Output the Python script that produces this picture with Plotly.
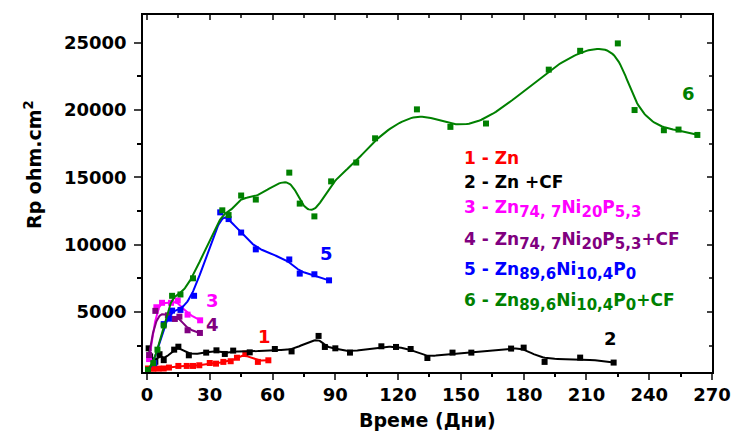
import numpy as np
import plotly.graph_objects as go

# Polarisation resistance Rp (ohm.cm^2) versus exposure time (days)
days_zn = [0.5, 3, 5.5, 8, 10.5, 15, 19, 22, 25, 30, 33, 36.5, 40, 43, 47, 53, 58]
rp_zn = [800, 780, 790, 800, 870, 990, 990, 990, 1040, 1210, 1160, 1290, 1340, 1600, 1910, 1290, 1410]

days_zn_cf = [0.8, 1.5, 4, 6, 8, 13, 15, 20, 28.3, 33.2, 37.2, 41.2, 49.1, 61.1, 69.1, 82, 85, 90, 97,
              112, 119, 126, 134, 146, 155, 174, 180, 190, 207, 223]
rp_zn_cf = [2300, 1700, 1300, 1860, 1420, 2200, 2420, 1780, 1980, 2150, 1880, 2130, 2000, 2250, 2070,
            3220, 2400, 2300, 1980, 2450, 2400, 2250, 1580, 1980, 1980, 2280, 2350, 1290, 1610, 1240]

days_znnip = [1, 4.5, 7.2, 11.5, 14.7, 19.4, 25.4]
rp_znnip = [1500, 5350, 5680, 5680, 5850, 4800, 4380]

days_znnip_cf = [1, 4, 10, 13.3, 15.5, 19.4, 25.3]
rp_znnip_cf = [1800, 5080, 4750, 4480, 4650, 3640, 3440]

days_znni = [0.5, 3.5, 8, 10.5, 12, 16, 22.5, 35, 39, 45, 52, 68, 73, 80, 87]
rp_znni = [600, 1200, 4100, 4500, 5100, 5150, 6200, 12400, 11900, 10900, 9650, 8900, 7850, 7800, 7350]

days_znni_cf = [0.5, 3, 5, 8, 12, 16, 22, 36, 39, 45, 52, 68, 73, 80, 88, 100, 109, 129, 145, 162,
                192, 207, 225, 233, 247, 254, 263]
rp_znni_cf = [700, 1200, 2200, 4000, 6200, 6300, 7500, 12550, 12200, 13650, 13350, 15350, 13050, 12100,
              14700, 16100, 17900, 20050, 18750, 19000, 23000, 24400, 24950, 20000, 18500, 18550, 18150]

series = [
    ("1", days_zn, rp_zn, "#FF0000"),
    ("2", days_zn_cf, rp_zn_cf, "#000000"),
    ("3", days_znnip, rp_znnip, "#FF00FF"),
    ("4", days_znnip_cf, rp_znnip_cf, "#800080"),
    ("5", days_znni, rp_znni, "#0000FF"),
    ("6", days_znni_cf, rp_znni_cf, "#008000"),
]

x_ticks = [0, 30, 60, 90, 120, 150, 180, 210, 240, 270]
y_ticks = [5000, 10000, 15000, 20000, 25000]
y_tick_text = ["5000", "10000", "15000", "20000", "25000"]
x_range = [-1.9, 270]
y_range = [540, 27060]

FONT = "DejaVu Sans"
L, R, T, B = 143, 21, 15, 61
PW, PH = 733 - L - R, 433 - T - B


def bspline_curve(x, y, samples=400, degree=3):
    """Clamped uniform B-spline using the data points as control points."""
    P = np.column_stack([x, y]).astype(float)
    m = len(P)
    p = min(degree, m - 1)
    U = np.concatenate([np.zeros(p), np.linspace(0, 1, m - p + 1), np.ones(p)])
    t = np.linspace(0, 1, samples)
    t[-1] -= 1e-10
    N = np.array([((U[i] <= t) & (t < U[i + 1])).astype(float) for i in range(len(U) - 1)])
    for d in range(1, p + 1):
        Nn = np.zeros((len(U) - 1 - d, samples))
        for i in range(len(U) - 1 - d):
            a = U[i + d] - U[i]
            b = U[i + d + 1] - U[i + 1]
            term = np.zeros(samples)
            if a > 0:
                term += (t - U[i]) / a * N[i]
            if b > 0:
                term += (U[i + d + 1] - t) / b * N[i + 1]
            Nn[i] = term
        N = Nn
    C = N.T @ P
    return C[:, 0], C[:, 1]


fig = go.Figure()
for name, xs, ys, color in series:
    cx, cy = bspline_curve(xs, ys)
    fig.add_trace(go.Scatter(x=cx, y=cy, mode="lines", line=dict(color=color, width=2),
                             hoverinfo="skip", showlegend=False, cliponaxis=True))
    fig.add_trace(go.Scatter(x=xs, y=ys, mode="markers", name=name,
                             marker=dict(symbol="square", size=6, color=color),
                             showlegend=False))

# mirrored top/right axes carrying inward ticks
fig.add_trace(go.Scatter(x=[], y=[], xaxis="x2", yaxis="y2", showlegend=False))

tick_font = dict(family=FONT, size=18, color="black", weight="bold")
fig.update_layout(
    width=733, height=433,
    margin=dict(l=L, r=R, t=T, b=B, autoexpand=False),
    paper_bgcolor="white", plot_bgcolor="white",
    xaxis=dict(range=x_range, tickvals=x_ticks, ticks="outside", ticklen=6, tickwidth=1.5,
               showline=True, linewidth=1.5, linecolor="black", mirror=True, showgrid=False,
               zeroline=False, tickfont=tick_font, ticklabelstandoff=0, automargin=False,
               minor=dict(dtick=15, tick0=0, ticks="outside", ticklen=3, tickwidth=1.5,
                          tickcolor="black")),
    yaxis=dict(range=y_range, tickvals=y_ticks, ticktext=y_tick_text, ticks="outside",
               ticklen=7, tickwidth=1.5, automargin=False,
               showline=True, linewidth=1.5, linecolor="black", mirror=True, showgrid=False,
               zeroline=False, tickfont=tick_font, ticklabelstandoff=4,
               minor=dict(dtick=2500, tick0=0, ticks="outside", ticklen=4, tickwidth=1.5,
                          tickcolor="black")),
    xaxis2=dict(overlaying="x", side="top", range=x_range, tickvals=x_ticks, ticks="inside",
                ticklen=5, tickwidth=1.5, showticklabels=False, showgrid=False, zeroline=False,
                automargin=False,
                minor=dict(dtick=15, tick0=0, ticks="inside", ticklen=3, tickwidth=1.5)),
    yaxis2=dict(overlaying="y", side="right", range=y_range, tickvals=y_ticks, ticks="inside",
                ticklen=5, tickwidth=1.5, showticklabels=False, showgrid=False, zeroline=False,
                automargin=False,
                minor=dict(dtick=2500, tick0=0, ticks="inside", ticklen=3, tickwidth=1.5)),
    showlegend=False,
)

# axis titles
fig.add_annotation(text="Време (Дни)", xref="paper", yref="paper",
                   x=(427 - L) / PW, y=(433 - B - 420) / PH, showarrow=False,
                   xanchor="center", yanchor="middle",
                   font=dict(family=FONT, size=19, color="black", weight="bold"))
fig.add_annotation(text="Rp ohm.cm<sup>2</sup>", textangle=-90, xref="paper", yref="paper",
                   x=(33 - L) / PW, y=(433 - B - 165) / PH, showarrow=False,
                   xanchor="center", yanchor="middle",
                   font=dict(family=FONT, size=19, color="black", weight="bold"))

# curve numbers
curve_labels = [("1", 56.3, 3190, "#FF0000"), ("2", 221.4, 3050, "#000000"),
                ("3", 31.4, 5870, "#FF00FF"), ("4", 31.4, 4090, "#800080"),
                ("5", 86, 9360, "#0000FF"), ("6", 258.7, 21250, "#008000")]
for txt, lx, ly, col in curve_labels:
    fig.add_annotation(text=txt, x=lx, y=ly, showarrow=False,
                       font=dict(family=FONT, size=18, color=col, weight="bold"))


def sub(s):
    return f'<sub><span style="font-size:15px">{s}</span></sub>'


# key
key_rows = [
    ("1 - Zn", "#FF0000", 158),
    ("2 - Zn +CF", "#000000", 182),
    (f"3 - Zn{sub('74, 7')}Ni{sub('20')}P{sub('5,3')}", "#FF00FF", 209),
    (f"4 - Zn{sub('74, 7')}Ni{sub('20')}P{sub('5,3')}+CF", "#800080", 241),
    (f"5 - Zn{sub('89,6')}Ni{sub('10,4')}P{sub('0')}", "#0000FF", 271),
    (f"6 - Zn{sub('89,6')}Ni{sub('10,4')}P{sub('0')}+CF", "#008000", 302),
]
for txt, col, py in key_rows:
    fig.add_annotation(text=txt, xref="paper", yref="paper", x=(462 - L) / PW,
                       y=(433 - B - py) / PH, xanchor="left", yanchor="middle", showarrow=False,
                       align="left", font=dict(family=FONT, size=17, color=col, weight="bold"))

fig.write_html("out.html")
